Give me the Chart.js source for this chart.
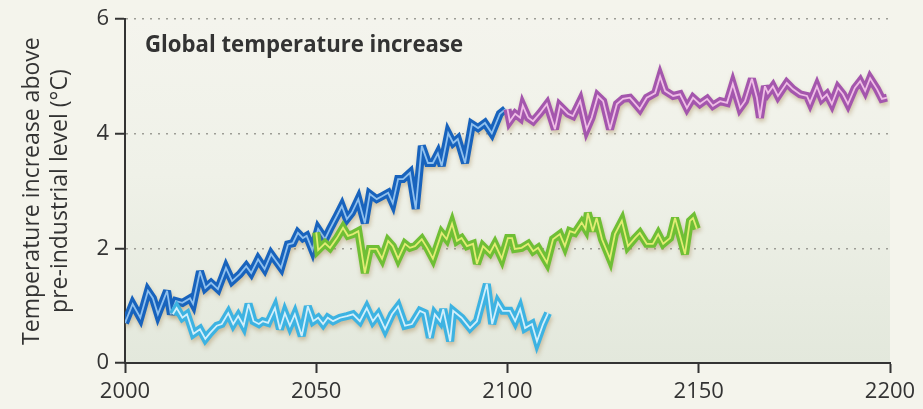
<!DOCTYPE html>
<html>
<head>
<meta charset="utf-8">
<script src="https://cdn.jsdelivr.net/npm/chart.js@4.4.1/dist/chart.umd.min.js"></script>
<style>
  html, body { margin: 0; padding: 0; background: #f4f4ec; }
  #wrap { width: 923px; height: 409px; position: relative; }
</style>
</head>
<body>
<div id="wrap"><canvas id="chart" width="923" height="409"></canvas></div>
<script>
// Axis ticks
const xTicks = [2000, 2050, 2100, 2150, 2200];
const yTicks = [0, 2, 4, 6];

// Rising path, 2000-2100 (dark blue)
const risingYears = [2000, 2002, 2004, 2006, 2007.3, 2008.6, 2011, 2012, 2013.3, 2015, 2017, 2017.8, 2019.6, 2021, 2022.5,
  2024.3, 2026.4, 2028, 2030, 2031.7, 2033, 2034.8, 2036.5, 2038.2, 2039.5, 2040.8, 2042.6, 2043.9, 2045.2, 2046.5,
  2047.5, 2049, 2050.5, 2052.3, 2053.6, 2055.4, 2056.7, 2058, 2059.3, 2061, 2062.7, 2064, 2065.8, 2067.2, 2068.8,
  2070, 2071.4, 2072.7, 2074.5, 2076, 2077.6, 2079.2, 2080.5, 2081.8, 2082.8, 2084.5, 2085.8, 2087, 2088.9, 2090.7,
  2092.3, 2094.1, 2095.9, 2098, 2099.5];
const risingValues = [0.70, 1.03, 0.79, 1.26, 1.13, 0.85, 1.26, 0.85, 1.08, 1.05, 1.13, 1.03, 1.60, 1.31, 1.40,
  1.29, 1.66, 1.43, 1.55, 1.69, 1.57, 1.81, 1.64, 1.90, 1.78, 1.66, 2.07, 2.09, 2.27, 2.18,
  2.22, 1.97, 2.34, 2.16, 2.34, 2.57, 2.74, 2.51, 2.62, 2.86, 2.44, 2.95, 2.86, 2.91, 2.97,
  2.79, 3.21, 3.21, 3.32, 2.69, 3.79, 3.49, 3.49, 3.66, 3.44, 4.01, 3.84, 3.91, 3.49, 4.17,
  4.10, 4.19, 4.01, 4.35, 4.43];

// Stabilised near 0.7 °C, 2012-2111 (light blue)
const lowYears = [2012.5, 2013.5, 2015, 2016.2, 2017.9, 2019.6, 2021, 2022.2, 2024, 2025.3, 2027, 2028.3, 2029.6, 2031,
  2032.3, 2033.6, 2035, 2036, 2037.4, 2039.2, 2040.5, 2041.8, 2043.1, 2044.4, 2046.2, 2047.8, 2049.2, 2050.5, 2051.8,
  2053, 2054.4, 2056.2, 2058, 2059.6, 2061.4, 2063.2, 2064.8, 2066.2, 2068, 2069.8, 2071.4, 2073.2, 2075, 2077.1,
  2078.4, 2079.7, 2081, 2082.4, 2083.2, 2085, 2085.8, 2088, 2090.2, 2092, 2093.6, 2094.6, 2096, 2097.5, 2098.8,
  2100.6, 2102, 2103.3, 2104.6, 2106.4, 2107.7, 2109.3, 2110.6];
const lowValues = [0.85, 0.96, 0.79, 0.85, 0.51, 0.59, 0.42, 0.52, 0.65, 0.68, 0.87, 0.68, 0.82, 0.65,
  1.03, 0.73, 0.68, 0.73, 0.70, 0.96, 0.59, 0.87, 0.65, 0.85, 0.47, 0.99, 0.73, 0.79, 0.68,
  0.79, 0.73, 0.79, 0.82, 0.85, 0.73, 0.96, 0.73, 0.85, 0.59, 0.85, 0.99, 0.65, 0.68, 0.91,
  0.87, 0.44, 0.85, 0.73, 0.94, 0.38, 0.91, 0.79, 0.61, 0.73, 1.13, 1.38, 0.68, 1.05, 0.91,
  0.91, 0.73, 0.94, 0.61, 0.68, 0.38, 0.68, 0.87];

// Stabilised near 2 °C, 2050-2150 (green)
const midYears = [2050, 2050.5, 2052.3, 2053.6, 2055.4, 2057, 2058.3, 2059.6, 2061, 2062.7, 2064, 2065.8, 2067.2, 2068.8,
  2070, 2071.4, 2073.2, 2074.5, 2075.8, 2077.6, 2079, 2080.5, 2082.8, 2084.1, 2085.5, 2086.8, 2088, 2089.4, 2091,
  2092, 2093.6, 2095.4, 2096.7, 2098.5, 2100.1, 2101.2, 2101.9, 2103.7, 2105.4, 2106.7, 2108, 2110.3, 2111.9, 2113.7,
  2115, 2116.3, 2117.6, 2119.4, 2120.4, 2121, 2122.3, 2123.3, 2124.7, 2126.8, 2128.1, 2129.9, 2131.5, 2133.3, 2134.6,
  2136.4, 2138, 2139.4, 2140.7, 2142.5, 2143.8, 2145.1, 2146.4, 2147.7, 2148.5, 2149.5];
const midValues = [2.28, 1.97, 2.09, 2.01, 2.18, 2.36, 2.22, 2.25, 2.30, 1.57, 1.99, 1.99, 1.82, 2.13,
  2.04, 1.82, 2.08, 2.01, 2.04, 2.16, 2.01, 1.82, 2.27, 2.16, 2.43, 2.13, 2.18, 2.04, 2.08,
  1.73, 2.04, 1.92, 2.08, 1.82, 2.18, 2.18, 1.99, 2.01, 2.08, 1.95, 2.01, 1.75, 2.16, 2.25,
  2.04, 2.30, 2.27, 2.45, 2.34, 2.62, 2.30, 2.53, 2.16, 1.82, 2.25, 2.48, 2.04, 2.18, 2.27,
  2.08, 2.08, 2.25, 2.08, 2.18, 2.53, 2.22, 1.90, 2.48, 2.53, 2.34];

// Continued after 2100 near 4.6 °C (purple)
const highYears = [2100, 2100.6, 2102, 2103.3, 2104, 2105.4, 2106.7, 2108.5, 2110.3, 2112.4, 2113.7, 2115.8, 2117.1, 2119,
  2120.7, 2122, 2123.6, 2125, 2126.8, 2128.6, 2130.2, 2132, 2132.8, 2134.6, 2136.4, 2138.6, 2139.9, 2141.2, 2143.3,
  2145.1, 2146.9, 2148.5, 2150.3, 2152.2, 2153.7, 2155.6, 2157.4, 2158.9, 2160.8, 2162.1, 2163.9, 2165.2, 2166,
  2167.3, 2168.1, 2169.4, 2170.7, 2173, 2174.6, 2176.5, 2178.3, 2179.1, 2180.9, 2182.2, 2183.5, 2184.8, 2186.4,
  2187.7, 2189, 2190.8, 2192.2, 2193.5, 2194.8, 2196.6, 2197.9, 2199.2];
const highValues = [4.43, 4.22, 4.35, 4.28, 4.49, 4.28, 4.22, 4.36, 4.52, 4.08, 4.49, 4.35, 4.31, 4.57,
  4.08, 4.28, 4.66, 4.57, 4.08, 4.52, 4.61, 4.63, 4.57, 4.43, 4.63, 4.71, 5.00, 4.75, 4.66,
  4.69, 4.45, 4.63, 4.52, 4.61, 4.49, 4.57, 4.54, 4.87, 4.45, 4.57, 4.96, 4.63, 4.28,
  4.83, 4.71, 4.83, 4.66, 4.89, 4.78, 4.69, 4.66, 4.54, 4.83, 4.61, 4.69, 4.52, 4.80,
  4.69, 4.52, 4.80, 4.92, 4.75, 4.97, 4.78, 4.61, 4.63];

const toPoints = (xs, ys) => xs.map((x, i) => ({ x: x, y: ys[i] }));

// Each path = a thick coloured stroke with a thin light core on top
function strokePair(xs, ys, outer, inner, order) {
  const data = toPoints(xs, ys);
  const common = { data: data, pointRadius: 0, tension: 0, borderJoinStyle: 'miter', borderCapStyle: 'butt', fill: false };
  return [
    Object.assign({}, common, { borderColor: outer, borderWidth: 8, order: order + 1, shadow: true }),
    Object.assign({}, common, { borderColor: inner, borderWidth: 1.8, order: order })
  ];
}

const datasets = [].concat(
  strokePair(risingYears, risingValues, '#1863bd', '#8fc0ee', 7),
  strokePair(lowYears, lowValues, '#3db3e2', '#d2effb', 5),
  strokePair(midYears, midValues, '#6fbf35', '#e2ec74', 3),
  strokePair(highYears, highValues, '#a456ad', '#efbde6', 1)
);

const plotBackground = {
  id: 'plotBackground',
  beforeDraw(chart) {
    const { ctx, chartArea: a } = chart;
    const g = ctx.createLinearGradient(0, a.top, 0, a.bottom);
    g.addColorStop(0, '#f4f4ed');
    g.addColorStop(0.45, '#eff1e8');
    g.addColorStop(1, '#e3e8dc');
    ctx.save();
    ctx.fillStyle = g;
    ctx.fillRect(a.left, a.top, a.right - a.left, a.bottom - a.top);
    ctx.restore();
  }
};

// Soft drop shadow under the thick strokes; moderate miters keep the zigzag tips pointed but compact
const lineShadow = {
  id: 'lineShadow',
  beforeDatasetDraw(chart, args) {
    const ctx = chart.ctx;
    ctx.save();
    ctx.miterLimit = 3.5;
    if (args.meta.controller.getDataset().shadow) {
      ctx.shadowColor = 'rgba(165, 135, 85, 0.45)';
      ctx.shadowBlur = 4;
      ctx.shadowOffsetX = 1;
      ctx.shadowOffsetY = 3;
    }
  },
  afterDatasetDraw(chart) {
    chart.ctx.restore();
  }
};

const insetTitle = {
  id: 'insetTitle',
  afterDatasetsDraw(chart) {
    const ctx = chart.ctx;
    ctx.save();
    ctx.font = "bold 24px 'Open Sans'";
    ctx.fillStyle = '#333333';
    ctx.textBaseline = 'alphabetic';
    ctx.textAlign = 'left';
    ctx.fillText('Global temperature increase', 145, 52, 318);
    ctx.restore();
  }
};

Chart.defaults.font.family = "'Open Sans', sans-serif";
Chart.defaults.color = '#333333';

new Chart(document.getElementById('chart'), {
  type: 'line',
  data: { datasets: datasets },
  plugins: [plotBackground, lineShadow, insetTitle],
  options: {
    responsive: false,
    animation: false,
    devicePixelRatio: 1,
    layout: { padding: { top: 18, right: 33, left: 0, bottom: 0 } },
    plugins: { legend: { display: false }, tooltip: { enabled: false } },
    scales: {
      x: {
        type: 'linear',
        min: 2000,
        max: 2200,
        afterBuildTicks: s => { s.ticks = xTicks.map(v => ({ value: v })); },
        afterFit: s => { s.height = 46; },
        ticks: { font: { size: 22 }, color: '#333333', padding: 6, maxRotation: 0, callback: v => String(v) },
        grid: { drawOnChartArea: false, drawTicks: true, tickLength: 10, tickColor: '#333333', tickWidth: 2 },
        border: { display: true, color: '#333333', width: 2 }
      },
      y: {
        type: 'linear',
        min: 0,
        max: 6,
        afterBuildTicks: s => { s.ticks = yTicks.map(v => ({ value: v })); },
        afterFit: s => { s.width = 125; },
        ticks: { font: { size: 22 }, color: '#333333', padding: 6, callback: v => String(v) },
        grid: {
          color: c => (c.tick && c.tick.value === 0) ? 'rgba(0,0,0,0)' : '#9d9d96',
          lineWidth: 1.5,
          drawTicks: true,
          tickLength: 10,
          tickColor: '#333333',
          tickWidth: 2
        },
        border: { display: true, color: '#333333', width: 2, dash: [2, 6] },
        title: {
          display: true,
          text: ['Temperature increase above', 'pre-industrial level (°C)'],
          font: { size: 23, lineHeight: 1.2 },
          color: '#333333',
          padding: { top: 19, bottom: 0 }
        }
      }
    }
  }
});
</script>
</body>
</html>
